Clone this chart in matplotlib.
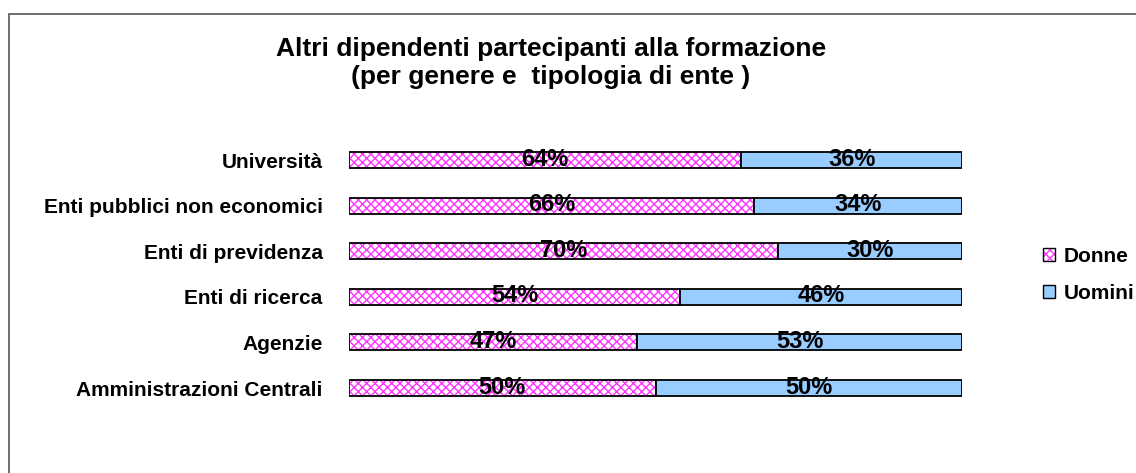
import numpy as np
import matplotlib.pyplot as plt
import matplotlib.patches as mpatches
import matplotlib as mpl

mpl.rcParams['font.family'] = ['Liberation Sans', 'DejaVu Sans']
mpl.rcParams['font.weight'] = 'bold'
mpl.rcParams['hatch.linewidth'] = 1.0

# dati (dal basso verso l'alto)
categorie = ['Amministrazioni Centrali', 'Agenzie', 'Enti di ricerca',
             'Enti di previdenza', 'Enti pubblici non economici', 'Università']
donne = [50, 47, 54, 70, 66, 64]
uomini = [50, 53, 46, 30, 34, 36]

rosa = '#FF33FF'
azzurro = '#99CCFF'

fig = plt.figure(figsize=(11.36, 4.73), dpi=100)

# cornice esterna
fig.patches.append(mpatches.Rectangle((9 / 1136, -0.1), 1.2, 1 - 14 / 473 + 0.1,
                                      transform=fig.transFigure, fill=False,
                                      edgecolor='#555555', linewidth=1.2))

ax = fig.add_axes([349 / 1136, 1 - 410.8 / 473, 613 / 1136, 273.6 / 473])

y = np.arange(len(categorie))
h = 0.35
d = np.array(donne)
u = np.array(uomini)

# donne: tratteggio rosa, poi contorno nero
ax.barh(y, d, height=h, color='white', edgecolor=rosa, hatch='xxxx', linewidth=0)
ax.barh(y, d, height=h, fill=False, edgecolor='black', linewidth=1.3)
ax.barh(y, u, left=d, height=h, color=azzurro, edgecolor='black', linewidth=1.3)

for i in range(len(categorie)):
    ax.text(d[i] / 2, y[i] + 0.02, f'{d[i]}%', ha='center', va='center',
            fontsize=17, fontweight='bold')
    ax.text(d[i] + u[i] / 2, y[i] + 0.02, f'{u[i]}%', ha='center', va='center',
            fontsize=17, fontweight='bold')

ax.set_xlim(0, 100)
ax.set_ylim(-0.5, len(categorie) - 0.5)
ax.set_yticks(y)
ax.set_yticklabels(categorie, fontsize=15, fontweight='bold')
ax.tick_params(axis='y', length=0, pad=19)
ax.set_xticks([])
for s in ax.spines.values():
    s.set_visible(False)

fig.text(551 / 1136, 1 - 63 / 473,
         'Altri dipendenti partecipanti alla formazione\n(per genere e  tipologia di ente )',
         ha='center', va='center', fontsize=19, fontweight='bold', linespacing=1.2)

h_donne = mpatches.Patch(facecolor='white', edgecolor=rosa, hatch='xxxx', linewidth=0)
h_donne_bordo = mpatches.Patch(fill=False, edgecolor='black', linewidth=1.0)
h_uomini = mpatches.Patch(facecolor=azzurro, edgecolor='black', linewidth=1.0)
fig.legend([(h_donne, h_donne_bordo), h_uomini], ['Donne', 'Uomini'],
           loc='center left', bbox_to_anchor=(1024 / 1136, 1 - 275 / 473),
           frameon=False, handlelength=0.6, handleheight=0.6, handletextpad=0.4,
           labelspacing=0.85, prop={'size': 15, 'weight': 'bold'})

plt.savefig('out.png', dpi=100)
